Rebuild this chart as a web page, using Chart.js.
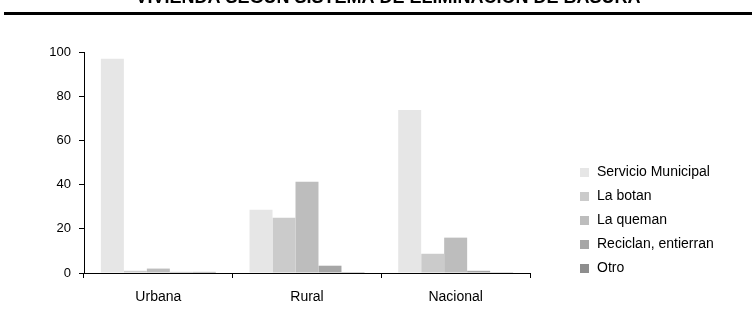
<!DOCTYPE html>
<html>
<head>
<meta charset="utf-8">
<script src="https://cdn.jsdelivr.net/npm/chart.js@4"></script>
<style>
  html, body { margin: 0; padding: 0; background: #fff; }
  #wrap { width: 752px; height: 330px; position: relative; }
</style>
</head>
<body>
<div id="wrap"><canvas id="c" width="752" height="330"></canvas></div>
<script>
// Área de residencia
const categories = ['Urbana', 'Rural', 'Nacional'];

// Porcentaje de viviendas por sistema de eliminación de basura
const servicioMunicipal = [97.0, 28.6, 73.8];
const laBotan           = [1.0, 25.0, 8.7];
const laQueman          = [2.0, 41.3, 16.0];
const reciclan          = [0.5, 3.3, 1.0];
const otro              = [0.5, 0.4, 0.1];

const seriesNames = ['Servicio Municipal', 'La botan', 'La queman', 'Reciclan, entierran', 'Otro'];
const yTicks = [0, 20, 40, 60, 80, 100];

const titleText = 'VIVIENDA SEGÚN SISTEMA DE ELIMINACIÓN DE BASURA';

const fills = ['#e6e6e6', '#cbcbcb', '#bdbdbd', '#a6a6a6', '#8e8e8e'];
const seriesData = [servicioMunicipal, laBotan, laQueman, reciclan, otro];

const FONT = '"Liberation Sans", Arial, sans-serif';

// Title band with the heavy rule under it
const headerPlugin = {
  id: 'header',
  afterDraw(chart) {
    const ctx = chart.ctx;
    ctx.save();
    ctx.fillStyle = '#000';
    ctx.font = 'bold 18px ' + FONT;
    ctx.textAlign = 'center';
    ctx.textBaseline = 'alphabetic';
    ctx.fillText(titleText, 388, 3);
    ctx.fillRect(4, 12, 748, 3);
    ctx.restore();
  }
};

// Legend column to the right of the plot, one row per dataset
const sideLegend = {
  id: 'sideLegend',
  afterDraw(chart) {
    const ctx = chart.ctx;
    const area = chart.chartArea;
    const x0 = area.right + 50;
    const rowH = 24;
    const yFirst = 172;
    ctx.save();
    ctx.font = '14px ' + FONT;
    ctx.textBaseline = 'middle';
    ctx.textAlign = 'left';
    chart.data.datasets.forEach((ds, i) => {
      const yc = yFirst + i * rowH;
      ctx.fillStyle = ds.backgroundColor;
      ctx.fillRect(x0, Math.round(yc - 4.5), 9, 9);
      ctx.fillStyle = '#000';
      ctx.fillText(ds.label, x0 + 17, yc);
    });
    ctx.restore();
  }
};

new Chart(document.getElementById('c'), {
  type: 'bar',
  data: {
    labels: categories,
    datasets: seriesData.map((d, i) => ({
      label: seriesNames[i],
      data: d,
      backgroundColor: fills[i],
      borderWidth: 0,
      categoryPercentage: 0.773,
      barPercentage: 1.0
    }))
  },
  options: {
    responsive: false,
    animation: false,
    devicePixelRatio: 1,
    layout: { padding: { top: 52, right: 222, bottom: 24, left: 0 } },
    plugins: {
      title: { display: false },
      tooltip: { enabled: false },
      legend: { display: false }
    },
    scales: {
      x: {
        offset: true,
        grid: { display: true, drawOnChartArea: false, drawTicks: true, tickLength: 5, color: '#000', offset: true },
        border: { display: true, color: '#000', width: 1 },
        ticks: { color: '#000', padding: 11, font: { family: FONT, size: 14 } },
        afterFit(s) { s.height = 33; }
      },
      y: {
        min: 0,
        max: 100,
        afterBuildTicks(s) { s.ticks = yTicks.map(v => ({ value: v })); },
        grid: { display: true, drawOnChartArea: false, drawTicks: true, tickLength: 5, color: '#000' },
        border: { display: true, color: '#000', width: 1 },
        ticks: { color: '#000', padding: 8, font: { family: FONT, size: 13 } },
        afterFit(s) { s.width = 84; }
      }
    }
  },
  plugins: [headerPlugin, sideLegend]
});
</script>
</body>
</html>
